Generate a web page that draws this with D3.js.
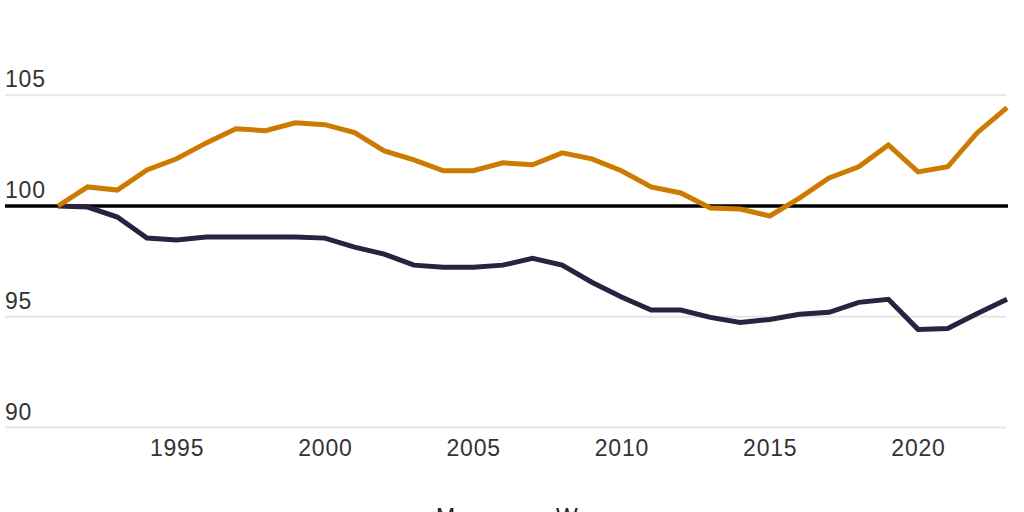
<!DOCTYPE html>
<html>
<head>
<meta charset="utf-8">
<script src="https://cdn.jsdelivr.net/npm/d3@7"></script>
<style>
  body { margin: 0; background: #fff; }
  svg { display: block; }
  text { font-family: "Liberation Sans", Arial, sans-serif; }
</style>
</head>
<body>
<svg width="1024" height="512"></svg>
<script>
const years = d3.range(1991, 2024);
const women = [100, 100.86, 100.72, 101.63, 102.13, 102.85, 103.49, 103.40, 103.76, 103.67,
  103.31, 102.49, 102.08, 101.59, 101.59, 101.95, 101.86, 102.40, 102.13, 101.59,
  100.86, 100.59, 99.91, 99.86, 99.55, 100.36, 101.27, 101.77, 102.76, 101.54,
  101.77, 103.31, 104.44];
const men = [100, 99.95, 99.50, 98.55, 98.46, 98.60, 98.60, 98.60, 98.60, 98.55,
  98.14, 97.83, 97.33, 97.24, 97.24, 97.33, 97.64, 97.33, 96.56, 95.89,
  95.30, 95.30, 94.97, 94.74, 94.88, 95.11, 95.20, 95.65, 95.79, 94.43,
  94.47, 95.15, 95.79];
const yTicks = [90, 95, 105];
const xTicks = [1995, 2000, 2005, 2010, 2015, 2020];
const legendNames = ["Men", "Women"];

const svg = d3.select("svg");

const x = d3.scaleLinear().domain([1991, 2023]).range([58, 1007]);
const y = d3.scaleLinear().domain([90, 100]).range([427.5, 206]);

const g = svg.append("g");

// light gridlines
const grid = g.append("g").selectAll("g").data(yTicks).join("g")
  .attr("transform", d => `translate(0, ${y(d)})`);
grid.append("line")
  .attr("x1", 5).attr("x2", 1006)
  .attr("stroke", "#e6e6e6").attr("stroke-width", 2);

// y labels (100 included, drawn above its baseline)
g.append("g").selectAll("text").data([90, 95, 100, 105]).join("text")
  .attr("x", 5)
  .attr("y", d => y(d) - 8)
  .attr("fill", "#333")
  .attr("font-size", 23)
  .attr("letter-spacing", 0.8)
  .text(d => d);

// x axis labels
const xAxis = d3.axisBottom(x).tickValues(xTicks).tickFormat(d3.format("d")).tickSize(0);
const xg = g.append("g")
  .attr("transform", "translate(0, 437)")
  .call(xAxis);
xg.select(".domain").remove();
xg.selectAll("text")
  .attr("font-size", 23)
  .attr("letter-spacing", 0.8)
  .attr("fill", "#333")
  .attr("dy", "0.71em")
  .style("font-family", "'Liberation Sans', Arial, sans-serif");

// 100 baseline
g.append("line")
  .attr("x1", 5).attr("x2", 1008)
  .attr("y1", y(100)).attr("y2", y(100))
  .attr("stroke", "#000").attr("stroke-width", 3.5);

const line = d3.line()
  .x((d, i) => x(years[i]))
  .y(d => y(d));

g.append("path")
  .attr("d", line(men))
  .attr("fill", "none")
  .attr("stroke", "#29233f")
  .attr("stroke-width", 5)
  .attr("stroke-linejoin", "miter");

g.append("path")
  .attr("d", line(women))
  .attr("fill", "none")
  .attr("stroke", "#cc7a00")
  .attr("stroke-width", 5)
  .attr("stroke-linejoin", "miter");

// legend, mostly below the frame
g.append("g").selectAll("text").data(legendNames).join("text")
  .attr("x", (d, i) => i === 0 ? 436 : 556)
  .attr("y", 525)
  .attr("fill", "#222")
  .attr("font-size", 23)
  .text(d => d);
</script>
</body>
</html>
